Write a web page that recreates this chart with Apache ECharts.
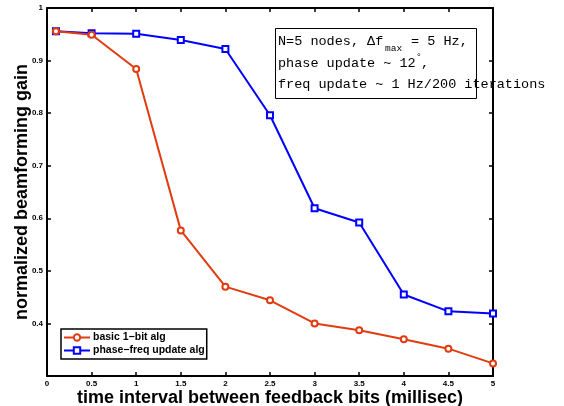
<!DOCTYPE html>
<html>
<head>
<meta charset="utf-8">
<script src="https://cdn.jsdelivr.net/npm/echarts@6/dist/echarts.min.js"></script>
<style>
html,body{margin:0;padding:0;background:#fff;}
#chart{width:564px;height:406px;}
</style>
</head>
<body>
<div id="chart"></div>
<script>
var xValues = [0.1, 0.5, 1, 1.5, 2, 2.5, 3, 3.5, 4, 4.5, 5];
var basicGain = [0.956, 0.949, 0.884, 0.577, 0.470, 0.444, 0.400, 0.387, 0.370, 0.352, 0.324];
var phaseFreqGain = [0.956, 0.952, 0.951, 0.939, 0.922, 0.796, 0.619, 0.592, 0.455, 0.423, 0.419];
var seriesNames = ['basic 1\u2212bit alg', 'phase\u2212freq update alg'];
var xTickLabels = ['0', '0.5', '1', '1.5', '2', '2.5', '3', '3.5', '4', '4.5', '5'];
var yTickLabels = ['', '0.4', '0.5', '0.6', '0.7', '0.8', '0.9', '1'];

function pairs(xs, ys) { return xs.map(function (x, i) { return [x, ys[i]]; }); }

var chart = echarts.init(document.getElementById('chart'));
var tickFont = { fontFamily: 'Liberation Sans', fontWeight: 'bold', fontSize: 8, color: '#000' };
var axisLine = { show: true, onZero: false, lineStyle: { color: '#000', width: 2 } };
var monoFont = '13.5px "Liberation Mono"';
var subFont = '9.5px "Liberation Mono"';
var titleFont = { fontFamily: 'Liberation Sans', fontWeight: 'bold', fontSize: 18, color: '#000' };

chart.setOption({
  animation: false,
  backgroundColor: '#fff',
  grid: { left: 47, right: 71, top: 8, bottom: 30, containLabel: false, outerBoundsMode: 'none' },
  xAxis: [{
    type: 'value', min: 0, max: 5, interval: 0.5, position: 'bottom',
    axisLine: axisLine,
    axisTick: { show: true, inside: true, length: 4, lineStyle: { color: '#000', width: 1.5 } },
    axisLabel: Object.assign({ margin: 4, formatter: function (v) { return xTickLabels[Math.round(v * 2)]; } }, tickFont),
    splitLine: { show: false },
    name: 'time interval between feedback bits (millisec)',
    nameLocation: 'middle', nameGap: 13, nameMoveOverlap: false,
    nameTextStyle: titleFont
  }, {
    type: 'value', min: 0, max: 5, interval: 0.5, position: 'top',
    axisLine: axisLine,
    axisTick: { show: true, inside: true, length: 4, lineStyle: { color: '#000', width: 1.5 } },
    axisLabel: { show: false }, splitLine: { show: false }
  }],
  yAxis: [{
    type: 'value', min: 0.3, max: 1, interval: 0.1, position: 'left',
    axisLine: axisLine,
    axisTick: { show: true, inside: true, length: 4, lineStyle: { color: '#000', width: 1.5 } },
    axisLabel: Object.assign({ margin: 4, formatter: function (v) { return yTickLabels[Math.round((v - 0.3) * 10)]; } }, tickFont),
    splitLine: { show: false },
    name: 'normalized beamforming gain',
    nameLocation: 'middle', nameGap: 16, nameMoveOverlap: false,
    nameTextStyle: titleFont
  }, {
    type: 'value', min: 0.3, max: 1, interval: 0.1, position: 'right',
    axisLine: axisLine,
    axisTick: { show: true, inside: true, length: 4, lineStyle: { color: '#000', width: 1.5 } },
    axisLabel: { show: false }, splitLine: { show: false }
  }],
  legend: {
    left: 61, top: 329, orient: 'vertical',
    padding: [3, 2, 3, 2], itemGap: 2, itemWidth: 26, itemHeight: 8,
    backgroundColor: '#fff', borderColor: '#000', borderWidth: 1.5, borderRadius: 0,
    textStyle: { fontFamily: 'Liberation Sans', fontWeight: 'bold', fontSize: 10.5, color: '#000', padding: [0, 0, 0, -2] },
    data: seriesNames
  },
  series: [{
    name: seriesNames[0], type: 'line', data: pairs(xValues, basicGain),
    symbol: 'emptyCircle', symbolSize: 6, z: 3,
    lineStyle: { color: '#e03c10', width: 2 },
    itemStyle: { color: '#e03c10', borderWidth: 1.8 }
  }, {
    name: seriesNames[1], type: 'line', data: pairs(xValues, phaseFreqGain),
    symbol: 'emptyRect', symbolSize: 6, z: 2,
    lineStyle: { color: '#0000ff', width: 2 },
    itemStyle: { color: '#0000ff', borderWidth: 1.8 }
  }],
  graphic: [
    { type: 'rect', z: 10, shape: { x: 275.5, y: 28.5, width: 201, height: 70 },
      style: { fill: '#fff', stroke: '#000', lineWidth: 1 } },
    { type: 'text', z: 11, x: 278, y: 41.5, style: { text: 'N=5 nodes, \u0394f', font: monoFont, fill: '#000', verticalAlign: 'middle' } },
    { type: 'text', z: 11, x: 385, y: 48.5, style: { text: 'max', font: subFont, fill: '#000', verticalAlign: 'middle' } },
    { type: 'text', z: 11, x: 403, y: 41.5, style: { text: ' = 5 Hz,', font: monoFont, fill: '#000', verticalAlign: 'middle' } },
    { type: 'text', z: 11, x: 278, y: 63, style: { text: 'phase update ~ 12', font: monoFont, fill: '#000', verticalAlign: 'middle' } },
    { type: 'text', z: 11, x: 416, y: 56, style: { text: '\u00b0', font: subFont, fill: '#000', verticalAlign: 'middle' } },
    { type: 'text', z: 11, x: 421, y: 63, style: { text: ',', font: monoFont, fill: '#000', verticalAlign: 'middle' } },
    { type: 'text', z: 11, x: 278, y: 84, style: { text: 'freq update ~ 1 Hz/200 iterations', font: monoFont, fill: '#000', verticalAlign: 'middle' } }
  ]
});
</script>
</body>
</html>
